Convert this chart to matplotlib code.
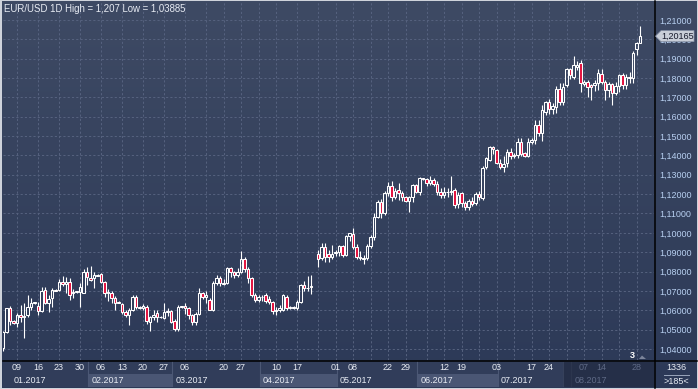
import numpy as np
import pandas as pd
import matplotlib
matplotlib.use("Agg")
import matplotlib.pyplot as plt
from matplotlib.patches import Rectangle, Polygon
from matplotlib.lines import Line2D
from matplotlib.colors import LinearSegmentedColormap

# === Datos (EUR/USD diario, 2017) ===
extra_sundays = ["2017-01-08", "2017-01-15", "2017-01-22", "2017-01-29", "2017-02-05",
                 "2017-02-12", "2017-02-19", "2017-02-26", "2017-03-05", "2017-03-12",
                 "2017-04-16", "2017-04-23", "2017-06-04"]
NA = np.nan  # hueco sin vela (domingo 23.04)

opens = [1.0403, 1.0487, 1.0612, 1.0546, 1.0536, 1.0575, 1.0565, 1.0575, 1.0617, 1.0637,
         1.0622, 1.0598, 1.0705, 1.0637, 1.0663, 1.0705, 1.0705, 1.0746, 1.0736, 1.0746,
         1.0689, 1.0694, 1.0694, 1.0691, 1.0798, 1.0767, 1.0767, 1.0782, 1.0787, 1.0746,
         1.0689, 1.0689, 1.0663, 1.0640, 1.0632, 1.0593, 1.0576, 1.0602, 1.0668, 1.0615,
         1.0612, 1.0618, 1.0541, 1.0567, 1.0586, 1.0566, 1.0558, 1.0593, 1.0596, 1.0545,
         1.0503, 1.0617, 1.0620, 1.0612, 1.0576, 1.0541, 1.0581, 1.0690, 1.0668, 1.0653,
         1.0602, 1.0741, 1.0767, 1.0741, 1.0741, 1.0818, 1.0798, 1.0782, 1.0800, 1.0865,
         1.0815, 1.0765, 1.0677, 1.0655, 1.0668, 1.0677, 1.0660, 1.0643, 1.0595, 1.0600,
         1.0602, 1.0669, 1.0612, 1.0615, 1.0612, 1.0643, 1.0730, 1.0715, 1.0720, NA,
         1.0890, 1.0870, 1.0929, 1.0890, 1.0875, 1.0896, 1.0900, 1.0930, 1.0885, 1.0985,
         1.0994, 1.0927, 1.0875, 1.0865, 1.0868, 1.0930, 1.0978, 1.1084, 1.1160, 1.1102,
         1.1208, 1.1243, 1.1187, 1.1220, 1.1207, 1.1185, 1.1166, 1.1187, 1.1247, 1.1213,
         1.1283, 1.1280, 1.1256, 1.1273, 1.1253, 1.1213, 1.1196, 1.1210, 1.1212, 1.1221,
         1.1148, 1.1205, 1.1154, 1.1133, 1.1167, 1.1154, 1.1200, 1.1180, 1.1340, 1.1377,
         1.1444, 1.1428, 1.1363, 1.1342, 1.1361, 1.1420, 1.1402, 1.1403, 1.1472, 1.1413,
         1.1397, 1.1472, 1.1480, 1.1557, 1.1516, 1.1627, 1.1678, 1.1642, 1.1648, 1.1743,
         1.1678, 1.1764, 1.1846, 1.1807, 1.1858, 1.1878, 1.1770, 1.1780, 1.1764, 1.1764,
         1.1773, 1.1822, 1.1778, 1.1737, 1.1769, 1.1724, 1.1761, 1.1814, 1.1762, 1.1806,
         1.1799, 1.1950, 1.1983]
highs = [1.0491, 1.0614, 1.0622, 1.0548, 1.0585, 1.0627, 1.0637, 1.0679, 1.0664, 1.0644,
         1.0642, 1.0720, 1.0718, 1.0679, 1.0715, 1.0710, 1.0762, 1.0777, 1.0772, 1.0767,
         1.0710, 1.0700, 1.0740, 1.0813, 1.0823, 1.0829, 1.0798, 1.0785, 1.0790, 1.0752,
         1.0712, 1.0698, 1.0672, 1.0646, 1.0640, 1.0601, 1.0610, 1.0680, 1.0680, 1.0620,
         1.0630, 1.0625, 1.0570, 1.0600, 1.0600, 1.0570, 1.0640, 1.0610, 1.0600, 1.0555,
         1.0625, 1.0624, 1.0640, 1.0615, 1.0580, 1.0590, 1.0715, 1.0695, 1.0700, 1.0665,
         1.0750, 1.0780, 1.0775, 1.0760, 1.0825, 1.0825, 1.0805, 1.0820, 1.0906, 1.0875,
         1.0825, 1.0770, 1.0690, 1.0680, 1.0680, 1.0690, 1.0675, 1.0650, 1.0615, 1.0625,
         1.0685, 1.0680, 1.0620, 1.0622, 1.0655, 1.0737, 1.0750, 1.0778, 1.0782, NA,
         1.0911, 1.0945, 1.0945, 1.0910, 1.0935, 1.0910, 1.0937, 1.0935, 1.0990, 1.1000,
         1.1023, 1.0940, 1.0905, 1.0885, 1.0940, 1.0990, 1.1100, 1.1170, 1.1175, 1.1215,
         1.1265, 1.1268, 1.1230, 1.1260, 1.1215, 1.1190, 1.1190, 1.1255, 1.1255, 1.1290,
         1.1286, 1.1285, 1.1296, 1.1282, 1.1270, 1.1230, 1.1235, 1.1230, 1.1296, 1.1230,
         1.1210, 1.1210, 1.1165, 1.1175, 1.1185, 1.1210, 1.1215, 1.1345, 1.1390, 1.1448,
         1.1448, 1.1435, 1.1380, 1.1395, 1.1435, 1.1440, 1.1415, 1.1490, 1.1490, 1.1420,
         1.1490, 1.1490, 1.1583, 1.1583, 1.1659, 1.1683, 1.1690, 1.1670, 1.1760, 1.1777,
         1.1777, 1.1850, 1.1850, 1.1914, 1.1890, 1.1895, 1.1790, 1.1790, 1.1770, 1.1790,
         1.1845, 1.1845, 1.1790, 1.1781, 1.1774, 1.1781, 1.1822, 1.1826, 1.1823, 1.1829,
         1.1940, 1.1985, 1.2070]
lows = [1.03885, 1.0485, 1.0524, 1.0530, 1.0516, 1.0540, 1.0457, 1.0565, 1.0600, 1.0632,
        1.0577, 1.0591, 1.0630, 1.0591, 1.0617, 1.0698, 1.0700, 1.0725, 1.0690, 1.0653,
        1.0665, 1.0690, 1.0618, 1.0689, 1.0730, 1.0751, 1.0717, 1.0775, 1.0740, 1.0668,
        1.0650, 1.0637, 1.0600, 1.0636, 1.0583, 1.0565, 1.0524, 1.0595, 1.0605, 1.0608,
        1.0600, 1.0530, 1.0494, 1.0550, 1.0540, 1.0560, 1.0555, 1.0570, 1.0535, 1.0495,
        1.0495, 1.0610, 1.0580, 1.0555, 1.0525, 1.0525, 1.0575, 1.0660, 1.0640, 1.0600,
        1.0598, 1.0730, 1.0725, 1.0730, 1.0735, 1.0770, 1.0765, 1.0770, 1.0795, 1.0800,
        1.0740, 1.0670, 1.0645, 1.0645, 1.0650, 1.0640, 1.0630, 1.0580, 1.0575, 1.0590,
        1.0595, 1.0600, 1.0605, 1.0605, 1.0600, 1.0640, 1.0700, 1.0700, 1.0684, NA,
        1.0823, 1.0860, 1.0850, 1.0850, 1.0865, 1.0880, 1.0880, 1.0875, 1.0880, 1.0960,
        1.0915, 1.0865, 1.0862, 1.0838, 1.0860, 1.0920, 1.0965, 1.1075, 1.1075, 1.1090,
        1.1190, 1.1165, 1.1175, 1.1170, 1.1165, 1.1160, 1.1110, 1.1160, 1.1205, 1.1195,
        1.1272, 1.1240, 1.1245, 1.1240, 1.1195, 1.1180, 1.1180, 1.1185, 1.1195, 1.1130,
        1.1130, 1.1135, 1.1120, 1.1120, 1.1140, 1.1145, 1.1170, 1.1170, 1.1330, 1.1370,
        1.1410, 1.1355, 1.1330, 1.1312, 1.1340, 1.1380, 1.1385, 1.1385, 1.1395, 1.1390,
        1.1390, 1.1460, 1.1460, 1.1500, 1.1477, 1.1610, 1.1612, 1.1612, 1.1620, 1.1660,
        1.1660, 1.1755, 1.1793, 1.1795, 1.1840, 1.1730, 1.1760, 1.1704, 1.1688, 1.1735,
        1.1740, 1.1770, 1.1688, 1.1704, 1.1662, 1.1710, 1.1730, 1.1742, 1.1741, 1.1775,
        1.1772, 1.1918, 1.1980]
closes = [1.0487, 1.0612, 1.0546, 1.0536, 1.0575, 1.0565, 1.0570, 1.0617, 1.0637, 1.0641,
          1.0598, 1.0701, 1.0637, 1.0658, 1.0705, 1.0702, 1.0746, 1.0736, 1.0744, 1.0679,
          1.0694, 1.0698, 1.0718, 1.0799, 1.0772, 1.0756, 1.0782, 1.0779, 1.0746, 1.0689,
          1.0696, 1.0663, 1.0637, 1.0644, 1.0591, 1.0576, 1.0602, 1.0668, 1.0615, 1.0612,
          1.0622, 1.0544, 1.0567, 1.0576, 1.0566, 1.0565, 1.0593, 1.0596, 1.0541, 1.0503,
          1.0617, 1.0620, 1.0612, 1.0576, 1.0541, 1.0581, 1.0690, 1.0668, 1.0680, 1.0602,
          1.0741, 1.0767, 1.0741, 1.0738, 1.0818, 1.0798, 1.0782, 1.0798, 1.0865, 1.0815,
          1.0765, 1.0677, 1.0655, 1.0668, 1.0670, 1.0650, 1.0645, 1.0595, 1.0600, 1.0612,
          1.0679, 1.0612, 1.0615, 1.0612, 1.0643, 1.0730, 1.0715, 1.0717, 1.0724, NA,
          1.0865, 1.0929, 1.0875, 1.0875, 1.0890, 1.0903, 1.0930, 1.0885, 1.0984, 1.0998,
          1.0927, 1.0875, 1.0870, 1.0868, 1.0932, 1.0978, 1.1084, 1.1160, 1.1102, 1.1208,
          1.1243, 1.1187, 1.1217, 1.1207, 1.1185, 1.1166, 1.1185, 1.1247, 1.1213, 1.1283,
          1.1280, 1.1256, 1.1273, 1.1253, 1.1213, 1.1196, 1.1210, 1.1212, 1.1218, 1.1144,
          1.1197, 1.1154, 1.1133, 1.1167, 1.1150, 1.1200, 1.1185, 1.1335, 1.1387, 1.1445,
          1.1433, 1.1361, 1.1342, 1.1355, 1.1420, 1.1397, 1.1398, 1.1472, 1.1410, 1.1399,
          1.1472, 1.1480, 1.1557, 1.1514, 1.1635, 1.1678, 1.1642, 1.1653, 1.1743, 1.1677,
          1.1756, 1.1846, 1.1815, 1.1867, 1.1867, 1.1774, 1.1780, 1.1755, 1.1755, 1.1773,
          1.1824, 1.1778, 1.1737, 1.1769, 1.1724, 1.1761, 1.1814, 1.1762, 1.1806, 1.1799,
          1.1929, 1.1980, 1.20165]

day_labels = ["2017-01-09", "2017-01-16", "2017-01-23", "2017-01-30", "2017-02-06",
              "2017-02-13", "2017-02-20", "2017-02-27", "2017-03-06", "2017-03-20",
              "2017-03-27", "2017-04-10", "2017-04-17", "2017-05-01", "2017-05-08",
              "2017-05-22", "2017-05-29", "2017-06-12", "2017-06-19", "2017-07-03",
              "2017-07-17", "2017-07-24", "2017-08-07", "2017-08-14", "2017-08-28"]
month_labels = ["01.2017", "02.2017", "03.2017", "04.2017", "05.2017", "06.2017", "07.2017", "08.2017"]
y_ticks = np.arange(1.04, 1.2101, 0.01)
last_price = 1.20165
title = "EUR/USD 1D High = 1,207 Low = 1,03885"

# === Fechas de las velas (días hábiles + algunos domingos) ===
days = pd.date_range("2017-01-04", "2017-08-29", freq="D")
dates = days[(days.dayofweek < 5) | days.isin(pd.to_datetime(extra_sundays))]
o, h, l, c = map(np.array, (opens, highs, lows, closes))
x = np.arange(len(dates))

# === Estilo ===
W, H = 698, 389
FONT = "Liberation Sans"
FS = 6.5
TOP_C, BOT_C = "#3e4a64", "#2c3957"
RED = "#e3123f"
LBL = "#b7cff0"
TXT = "#e8ecf4"
PX = 3.5  # px por vela

def fr(x0, y0, x1, y1):
    return [x0 / W, 1 - y1 / H, (x1 - x0) / W, (y1 - y0) / H]

def fx(px):
    return px / W

def fy(py):
    return 1 - py / H

fig = plt.figure(figsize=(W / 100, H / 100), dpi=100)
fig.patch.set_facecolor("#cfd3db")

# fondo con degradado
bg = fig.add_axes(fr(2, 1, 697, 388))
bg.axis("off")
cmap = LinearSegmentedColormap.from_list("fondo", [TOP_C, BOT_C])
bg.imshow(np.linspace(0, 1, 256).reshape(-1, 1), cmap=cmap, aspect="auto",
          extent=[0, 1, 0, 1], origin="upper")
bg.set_xlim(0, 1)
bg.set_ylim(0, 1)

# === Eje principal ===
ax = fig.add_axes(fr(3, 2, 654, 360))
ax.set_facecolor("none")
xmax = (654 - 3) / PX
ax.set_xlim(0, xmax)
ax.set_ylim(1.21 - (360 - 20) / 1935, 1.21 + (20 - 2) / 1935)
for s in ax.spines.values():
    s.set_visible(False)

mondays = [i for i, d in enumerate(dates) if d.dayofweek == 0]
ax.set_xticks(mondays)
ax.set_xticklabels([])
ax.set_yticks(y_ticks)
ax.yaxis.tick_right()
ax.yaxis.set_major_formatter(plt.FuncFormatter(lambda v, p: f"{v:.5f}".replace(".", ",")))
ax.tick_params(axis="x", length=0)
ax.tick_params(axis="y", length=0, pad=4, labelsize=FS, labelcolor=LBL)
for t in ax.get_yticklabels():
    t.set_fontfamily(FONT)
ax.grid(True, color="#56627f", lw=0.7, ls=(0, (2.2, 2.2)), zorder=1)

# velas
top = np.fmax(o, c)
bot = np.fmin(o, c)
ok = ~np.isnan(c)
w1 = ax.vlines(x[ok], top[ok], h[ok], color="white", lw=0.8, zorder=3)
w2 = ax.vlines(x[ok], l[ok], bot[ok], color="white", lw=0.8, zorder=3)
w1.set_snap(True)
w2.set_snap(True)
up = ok & (c >= o)
dn = ok & (c < o)
ax.bar(x[up], (top - bot)[up], bottom=bot[up], width=0.62, facecolor="none",
       edgecolor="white", lw=0.75, zorder=4)
ax.bar(x[dn], (top - bot)[dn], bottom=bot[dn], width=0.62, facecolor=RED,
       edgecolor="white", lw=0.75, zorder=4)

# === Banda de tiempo ===
tb = fig.add_axes(fr(3, 361, 654, 387))
tb.set_xlim(0, xmax)
tb.set_ylim(26, 0)
tb.set_facecolor("#313d5a")
tb.set_xticks([])
tb.set_yticks([])
for s in tb.spines.values():
    s.set_visible(False)

month_start = [0] + [i for i in range(1, len(dates)) if dates[i].month != dates[i - 1].month]
edges = [0] + [m + 0.3 for m in month_start[1:]] + [xmax]
for k, lab in enumerate(month_labels):
    x0, x1 = edges[k], edges[k + 1]
    if k % 2 == 1 and k < 7:
        tb.add_patch(Rectangle((x0, 12.5), x1 - x0, 14, facecolor="#4a5674",
                               edgecolor="none", zorder=1))
    if k > 0:
        tb.plot([x0, x0], [0, 26], color="#4c5875", lw=0.8, zorder=2)
    col = "#5f6a86" if k == 7 else TXT
    tb.text(max(x0, 2) + 0.9, 19.5, lab, ha="left", va="center", fontsize=FS,
            color=col, family=FONT, zorder=5)

# zona oscura de agosto
ov0 = list(dates).index(pd.Timestamp("2017-07-28"))
tb.add_patch(Rectangle((ov0, 0), xmax - ov0, 26, facecolor="#222b42", alpha=0.75,
                       edgecolor="#3a4560", lw=0.8, zorder=3))

date_idx = {d.strftime("%Y-%m-%d"): i for i, d in enumerate(dates)}
for d in day_labels:
    i = date_idx[d]
    col = "#5f6a86" if i >= ov0 else TXT
    tb.text(i, 7, d[-2:], ha="center", va="center", fontsize=FS, color=col,
            family=FONT, zorder=5)

# caja inferior derecha
fig.text(fx(676), fy(367.5), "1336", ha="center", va="center", fontsize=FS,
         color=TXT, family=FONT)
fig.add_artist(Line2D([fx(664), fx(689)], [fy(374.5)] * 2, color="#9aa6bc", lw=0.7))
fig.text(fx(676), fy(381), ">185<", ha="center", va="center", fontsize=FS,
         color=TXT, family=FONT)

# líneas negras
fig.add_artist(Line2D([fx(654.5)] * 2, [fy(1), fy(388)], color="black", lw=1.1))
fig.add_artist(Line2D([fx(3), fx(697)], [fy(360.5)] * 2, color="black", lw=1.1))

# etiqueta del precio actual (tapa la etiqueta 1,20000 como en el original)
yp = 20 + (1.21 - last_price) * 1935
tag = Polygon([(fx(655.5), fy(yp)), (fx(661), fy(yp - 5.5)), (fx(694), fy(yp - 5.5)),
               (fx(694), fy(yp + 5.5)), (fx(661), fy(yp + 5.5))],
              closed=True, transform=fig.transFigure, facecolor="#c9ced8",
              edgecolor="#8a94a8", lw=0.5, zorder=10)
fig.add_artist(tag)
fig.text(fx(677.5), fy(yp), f"{last_price:.5f}".replace(".", ","), ha="center",
         va="center", fontsize=FS, color="#15182a", family=FONT, zorder=11)

# marcador "3"
fig.text(fx(632), fy(355), "3", ha="center", va="center", fontsize=FS,
         color="white", family=FONT, weight="bold")
fig.add_artist(Polygon([(fx(639), fy(359)), (fx(642), fy(355.5)), (fx(646), fy(359))],
                       closed=True, transform=fig.transFigure, facecolor="#7b849a",
                       edgecolor="none"))

# título
fig.text(fx(4), fy(8.5), title, ha="left", va="center", fontsize=FS + 0.4, color=TXT,
         family=FONT)

fig.savefig("out.png", dpi=100, facecolor=fig.get_facecolor())
